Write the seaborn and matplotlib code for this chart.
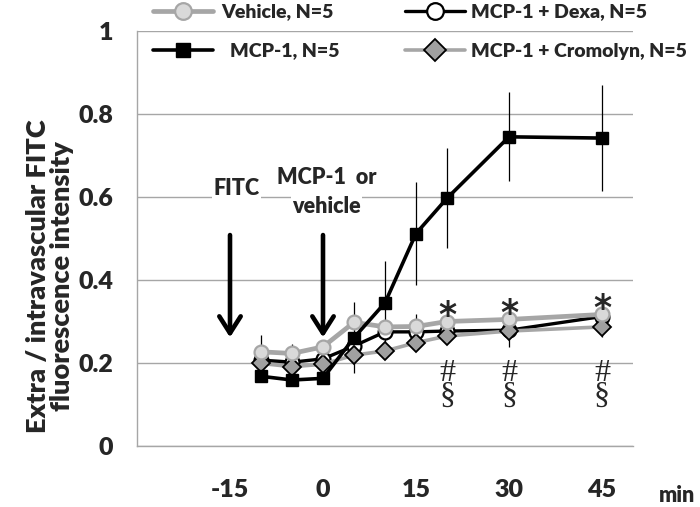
import numpy as np
import seaborn as sns
import matplotlib.pyplot as plt
from matplotlib.lines import Line2D

# time after MCP-1 / vehicle (min)
minutes = [-10, -5, 0, 5, 10, 15, 20, 30, 45]

# extra / intravascular FITC ratio
vehicle = [0.227, 0.223, 0.239, 0.298, 0.287, 0.288, 0.300, 0.305, 0.317]
mcp1 = [0.168, 0.159, 0.163, 0.261, 0.345, 0.512, 0.597, 0.745, 0.742]
dexa = [0.207, 0.202, 0.210, 0.241, 0.275, 0.275, 0.277, 0.279, 0.312]
cromolyn = [0.199, 0.191, 0.197, 0.219, 0.229, 0.249, 0.265, 0.277, 0.287]

# error bars (only one side shows for most groups)
vehicle_up = [0.040, 0.022, 0.012, 0.015, 0.012, 0.030, 0.012, 0.012, 0.045]
mcp1_err = [0.012, 0.012, 0.012, 0.085, 0.100, 0.123, 0.120, 0.107, 0.128]
dexa_down = [0.015, 0.015, 0.015, 0.015, 0.015, 0.015, 0.015, 0.040, 0.015]
cromolyn_down = [0.015, 0.015, 0.015, 0.015, 0.015, 0.015, 0.015, 0.015, 0.025]

star_times = [20, 30, 45]
x_ticks = [-30, -15, 0, 15, 30, 45]
x_labels = ['', '-15', '0', '15', '30', '45']
y_ticks = [0, 0.2, 0.4, 0.6, 0.8, 1]
y_labels = ['0', '0.2', '0.4', '0.6', '0.8', '1']

sns.set_style('white')
plt.rcParams['font.family'] = ['Lato', 'DejaVu Sans']
plt.rcParams['font.weight'] = 'bold'

GRAY = '#a6a6a6'

fig = plt.figure(figsize=(7, 5.07), dpi=100)
ax = fig.add_axes([137 / 700, 1 - 446 / 507, (633 - 137) / 700, (446 - 31) / 507])

styles = {
    'Vehicle, N=5': dict(color=GRAY, linewidth=3.4, marker='o', markersize=10,
                         markerfacecolor='#d9d9d9', mec=GRAY, mew=1.6, zorder=5),
    'MCP-1, N=5': dict(color='black', linewidth=2.6, marker='s', markersize=8.5,
                       markerfacecolor='black', mec='black', mew=1, zorder=6),
    'MCP-1 + Dexa, N=5': dict(color='black', linewidth=2.4, marker='o', markersize=10,
                              markerfacecolor='white', mec='black', mew=1.6, zorder=3),
    'MCP-1 + Cromolyn, N=5': dict(color=GRAY, linewidth=2.6, marker='D', markersize=9,
                                  markerfacecolor='#a0a0a0', mec='black', mew=1.3, zorder=4),
}
values = {
    'Vehicle, N=5': vehicle,
    'MCP-1, N=5': mcp1,
    'MCP-1 + Dexa, N=5': dexa,
    'MCP-1 + Cromolyn, N=5': cromolyn,
}
zeros = np.zeros(len(minutes))
errors = {
    'Vehicle, N=5': [zeros, vehicle_up],
    'MCP-1, N=5': [mcp1_err, mcp1_err],
    'MCP-1 + Dexa, N=5': [dexa_down, zeros],
    'MCP-1 + Cromolyn, N=5': [cromolyn_down, zeros],
}

for name, vals in values.items():
    ax.errorbar(minutes, vals, yerr=errors[name], fmt='none', ecolor='black',
                elinewidth=0.9, capsize=0, zorder=2)
    sns.lineplot(x=minutes, y=vals, ax=ax, **styles[name])

ax.set_xlim(-30, 50)
ax.set_ylim(0, 1)
ax.set_xticks(x_ticks)
ax.set_xticklabels(x_labels)
ax.set_yticks(y_ticks)
ax.set_yticklabels(y_labels)
ax.yaxis.grid(True, color=GRAY, linewidth=1)
ax.set_axisbelow(True)
for side in ['top', 'right']:
    ax.spines[side].set_visible(False)
for side in ['left', 'bottom']:
    ax.spines[side].set_color(GRAY)
    ax.spines[side].set_linewidth(1)
ax.tick_params(axis='both', direction='out', length=6, width=1, color=GRAY,
               labelsize=18)
ax.tick_params(axis='x', pad=18)
ax.tick_params(axis='y', pad=11)
for lab in ax.get_xticklabels() + ax.get_yticklabels():
    lab.set_fontweight('heavy')

# significance marks
for t in star_times:
    i = minutes.index(t)
    ax.text(t, vehicle[i] - 0.027, '*', ha='center', va='bottom', fontsize=25,
            fontweight='bold', family='DejaVu Sans', zorder=7)
    ax.text(t, 0.148, '#\n§', ha='center', va='center', fontsize=23,
            fontweight='normal', family='Liberation Serif', linespacing=0.72,
            zorder=7)

# injection arrows
for t in [-15, 0]:
    ax.annotate('', xy=(t, 0.255), xytext=(t, 0.515),
                arrowprops=dict(arrowstyle='->, head_length=0.55, head_width=0.35',
                                lw=3.3, color='black', mutation_scale=22))
box = dict(facecolor='white', edgecolor='none', pad=1)
ax.text(-14, 0.62, 'FITC', ha='center', va='center', fontsize=15.5, fontweight='heavy', bbox=box)
ax.text(0.6, 0.648, 'MCP-1  or', ha='center', va='center', fontsize=15.5, fontweight='heavy', bbox=box)
ax.text(0.6, 0.578, 'vehicle', ha='center', va='center', fontsize=15.5, fontweight='heavy', bbox=box)

fig.text(50 / 700, 1 - 276 / 507, 'Extra / intravascular FITC\nfluorescence intensity',
         rotation=90, ha='center', va='center', fontsize=19.5, fontweight='heavy',
         linespacing=1.0)
fig.text(677 / 700, 1 - 495 / 507, 'min', ha='center', va='center', fontsize=15.5,
         fontweight='heavy')

# legend entries placed one by one, as in the original
legend_spots = {
    'Vehicle, N=5': (153, 12, 0.4),
    'MCP-1, N=5': (153, 51, 0.85),
    'MCP-1 + Dexa, N=5': (405, 12, 0.28),
    'MCP-1 + Cromolyn, N=5': (405, 51, 0.28),
}
for name, (px, py, gap) in legend_spots.items():
    s = styles[name]
    handle = Line2D([], [], color=s['color'], linewidth=s['linewidth'], marker=s['marker'],
                    markersize=s['markersize'] + 2, markerfacecolor=s['markerfacecolor'],
                    markeredgecolor=s['mec'], markeredgewidth=s['mew'])
    fig.legend([handle], [name], loc='center left',
               bbox_to_anchor=(px / 700, 1 - py / 507), frameon=False,
               borderpad=0, borderaxespad=0, handlelength=3.1,
               handletextpad=gap, prop={'weight': 'heavy', 'size': 14})

fig.savefig('out.png', dpi=100)
